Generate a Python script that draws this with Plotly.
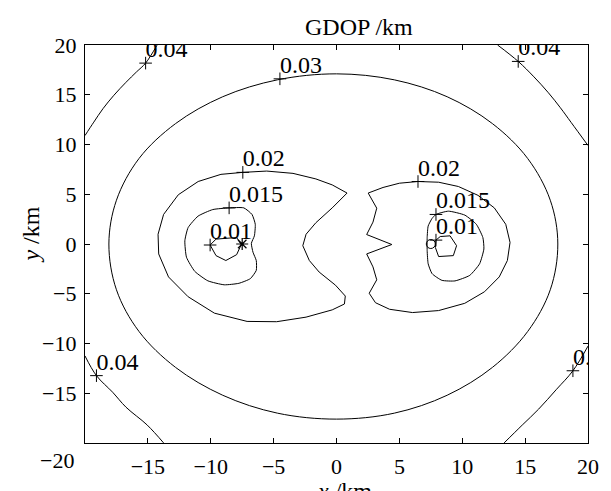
import plotly.graph_objects as go

# ---- GDOP contour lines (x, y in km) ----
# 0.04 level: four arcs cut by the plotting window
c040_tl_x = [-20.0, -19.3, -18.57, -17.7, -16.74, -15.9, -15.18, -14.27]
c040_tl_y = [10.9, 12.25, 13.6, 14.95, 16.25, 17.3, 18.18, 19.99]
c040_tr_x = [12.81, 14.45, 15.7, 16.85, 17.8, 18.67, 20.0]
c040_tr_y = [20.0, 18.35, 16.8, 15.2, 13.7, 12.2, 9.9]
c040_bl_x = [-20.0, -19.09, -17.8, -16.74, -15.05, -13.75]
c040_bl_y = [-11.25, -13.23, -14.9, -16.4, -18.2, -19.99]
c040_br_x = [13.33, 14.77, 16.07, 17.5, 18.8, 20.0]
c040_br_y = [-19.99, -18.2, -16.6, -14.6, -12.74, -10.26]

# 0.03 level: closed loop around both stations
c030_x = [17.6, 17.0, 15.2, 12.4, 8.8, 4.6, 0.0, -4.7, -9.05, -12.8, -15.7,
          -17.5, -18.1, -17.5, -15.7, -12.8, -9.05, -4.7, 0.0, 4.6, 8.8, 12.4,
          15.2, 17.0, 17.6]
c030_y = [0.0, 4.4, 8.6, 12.1, 14.8, 16.5, 17.1, 16.5, 14.8, 12.1, 8.6,
          4.4, 0.0, -4.6, -8.8, -12.4, -15.2, -17.0, -17.6, -17.0, -15.2, -12.4,
          -8.8, -4.6, 0.0]

# 0.02 level: left lobe
c020_l_x = [-7.45, -5.55, -3.46, -1.64, -0.34, 0.84, -0.34, -1.64, -2.42, -2.68,
            -2.16, -1.38, -0.08, 0.7, 0.63, -0.34, -2.42, -4.76, -7.11, -9.71,
            -11.8, -13.36, -14.14, -14.19, -13.75, -12.58, -11.0, -9.19, -7.45]
c020_l_y = [7.2, 7.33, 7.1, 6.54, 5.94, 5.12, 3.63, 2.14, 0.98, -0.17,
            -1.66, -2.82, -4.14, -5.23, -6.03, -6.62, -7.35, -7.81, -7.78, -6.95,
            -5.3, -3.31, -1.0, 0.98, 2.97, 4.95, 6.28, 7.0, 7.2]
# 0.02 level: right lobe
c020_r_x = [2.52, 3.7, 5.0, 6.48, 8.12, 9.69, 11.25, 12.55, 13.46, 13.8, 13.59,
            12.94, 11.77, 10.2, 8.12, 6.04, 4.22, 3.1, 2.6, 3.2, 2.9, 2.4, 4.4,
            2.4, 2.9, 3.2, 2.52]
c020_r_y = [5.12, 5.68, 6.11, 6.28, 6.21, 5.78, 4.89, 3.63, 1.98, 0.16, -1.66,
            -3.31, -4.8, -5.96, -6.69, -6.89, -6.56, -5.9, -4.95, -3.6, -2.3, -1.0,
            -0.05, 0.95, 2.2, 3.6, 5.12]

# 0.015 level
c015_l_x = [-8.54, -7.37, -6.72, -6.46, -6.53, -6.77, -6.64, -6.38, -6.38, -6.85,
            -7.76, -8.93, -10.23, -11.27, -11.93, -12.06, -11.8, -11.01, -9.84, -8.54]
c015_l_y = [3.63, 3.63, 2.97, 1.98, 0.82, 0.06, -0.83, -1.66, -2.65, -3.48,
            -3.95, -4.1, -3.7, -2.75, -1.33, 0.32, 1.65, 2.8, 3.46, 3.63]
c015_r_x = [7.91, 8.9, 10.21, 11.12, 11.64, 11.72, 11.38, 10.6, 9.42, 8.38,
            7.6, 7.29, 7.21, 7.21, 7.29, 7.6, 7.91]
c015_r_y = [2.97, 3.3, 2.9, 1.98, 0.65, -0.5, -1.99, -3.15, -3.71, -3.65,
            -2.98, -1.99, -0.67, 0.65, 1.81, 2.57, 2.97]

# 0.01 level
c010_l_x = [-9.58, -7.94, -7.58, -7.94, -8.8, -9.58, -10.05, -9.58]
c010_l_y = [0.49, 0.65, -0.07, -1.07, -1.66, -1.17, -0.1, 0.49]
c010_r_x = [7.91, 8.25, 9.03, 9.55, 9.29, 8.12, 7.86, 7.91]
c010_r_y = [0.39, 0.75, 0.82, -0.17, -1.17, -1.26, -0.34, 0.39]

# contour labels and their anchor points
label_text = ["0.04", "0.04", "0.03", "0.02", "0.015", "0.01",
              "0.02", "0.015", "0.01", "0.04", "0.04"]
label_x = [-15.18, 14.45, -4.5, -7.45, -8.54, -10.05, 6.48, 7.91, 7.91, -19.09, 18.8]
label_y = [18.18, 18.35, 16.6, 7.2, 3.63, -0.1, 6.28, 2.97, 0.39, -13.23, -12.74]

# station positions
station_star = (-7.5, 0.0)
station_circle = (7.5, 0.0)

tick_vals = [-20, -15, -10, -5, 0, 5, 10, 15, 20]
x_tick_text = ["", "−15", "−10", "−5", "0", "5", "10", "15", "20"]
y_tick_vals = [-15, -10, -5, 0, 5, 10, 15, 20]

FONT = "Liberation Serif, Times New Roman, serif"
FS_TICK = 22
FS_TEXT = 24

fig = go.Figure()

smooth = dict(shape="spline", smoothing=1.0, color="black", width=1)
soft = dict(shape="spline", smoothing=0.5, color="black", width=1)
straight = dict(shape="linear", color="black", width=1)

for xs, ys, ln in [
    (c040_tl_x, c040_tl_y, smooth), (c040_tr_x, c040_tr_y, smooth),
    (c040_bl_x, c040_bl_y, smooth), (c040_br_x, c040_br_y, smooth),
    (c030_x, c030_y, smooth),
    (c020_l_x, c020_l_y, straight), (c020_r_x, c020_r_y, straight),
    (c015_l_x, c015_l_y, soft), (c015_r_x, c015_r_y, soft),
    (c010_l_x, c010_l_y, straight), (c010_r_x, c010_r_y, straight),
]:
    fig.add_trace(go.Scatter(x=xs, y=ys, mode="lines", line=ln,
                             hoverinfo="skip", showlegend=False))

# "+" markers where the labels sit
fig.add_trace(go.Scatter(x=label_x, y=label_y, mode="markers",
                         marker=dict(symbol="cross-thin", size=9,
                                     line=dict(color="black", width=1)),
                         showlegend=False, hoverinfo="skip"))
# contour label text
fig.add_trace(go.Scatter(x=label_x, y=label_y, mode="text", text=label_text,
                         textposition="top right",
                         textfont=dict(family=FONT, size=FS_TEXT, color="black"),
                         cliponaxis=True, showlegend=False, hoverinfo="skip"))
# stations
fig.add_trace(go.Scatter(x=[station_star[0]], y=[station_star[1]], mode="markers",
                         marker=dict(symbol="asterisk", size=10,
                                     line=dict(color="black", width=1.2)),
                         showlegend=False, hoverinfo="skip"))
fig.add_trace(go.Scatter(x=[station_circle[0]], y=[station_circle[1]], mode="markers",
                         marker=dict(symbol="circle-open", size=9, color="black",
                                     line=dict(color="black", width=1)),
                         showlegend=False, hoverinfo="skip"))

axis_common = dict(showline=True, linecolor="black", linewidth=1.3, mirror="ticks",
                   ticks="inside", ticklen=5, tickwidth=1, tickcolor="black",
                   showgrid=False, zeroline=False,
                   tickfont=dict(family=FONT, size=FS_TICK, color="black"))

fig.update_xaxes(range=[-20, 20], tickvals=tick_vals, ticktext=x_tick_text,
                 ticklabelstandoff=3, **axis_common)
fig.update_yaxes(range=[-20, 20], tickvals=y_tick_vals, ticklabelstandoff=3,
                 **axis_common)

fig.update_layout(
    width=611, height=491,
    margin=dict(l=85, r=14, t=45, b=43),
    paper_bgcolor="white", plot_bgcolor="white",
    font=dict(family=FONT, size=FS_TICK, color="black"),
    annotations=[
        dict(text="GDOP /km", xref="paper", yref="paper", x=0.545, y=1.0447,
             xanchor="center", yanchor="middle", showarrow=False,
             font=dict(family=FONT, size=FS_TEXT)),
        dict(text="<i>y</i> /km", xref="paper", yref="paper", x=-0.1074, y=0.5236,
             xanchor="center", yanchor="middle", textangle=-90, showarrow=False,
             font=dict(family=FONT, size=FS_TEXT)),
        dict(text="<i>x</i> /km", xref="paper", yref="paper", x=0.5156, y=-0.12,
             xanchor="center", yanchor="middle", showarrow=False,
             font=dict(family=FONT, size=FS_TEXT)),
        dict(text="−20", xref="paper", yref="paper", x=-0.0547, y=-0.0447,
             xanchor="center", yanchor="middle", showarrow=False,
             font=dict(family=FONT, size=FS_TICK)),
    ],
)

fig.write_html("out.html")
